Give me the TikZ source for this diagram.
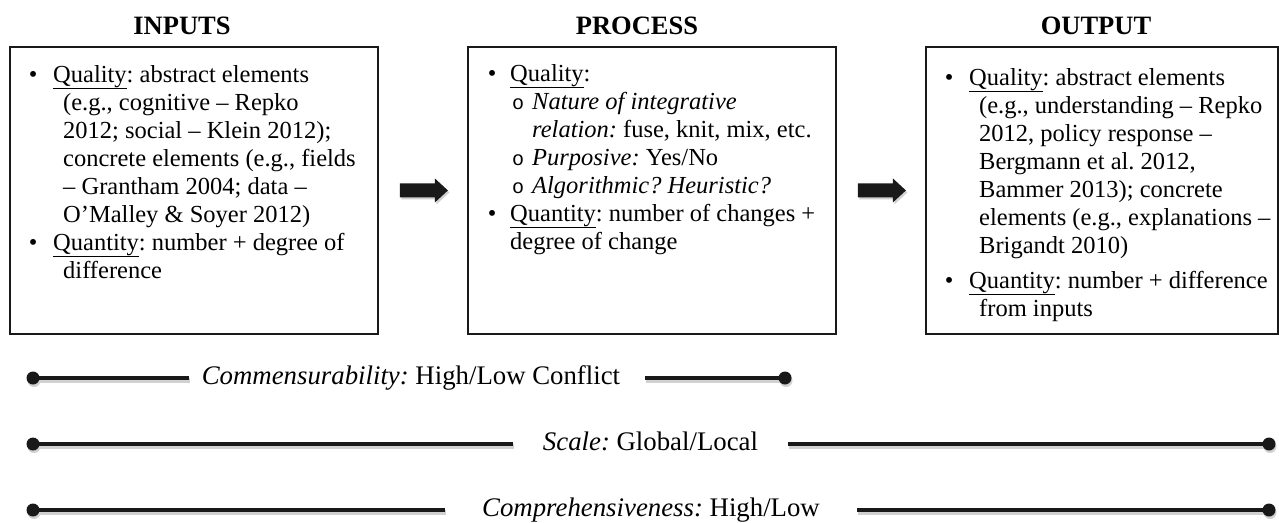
\documentclass[tikz,border=0pt]{standalone}
\usepackage{fontspec}
\setmainfont{Liberation Serif}
\newfontfamily\circfont{Liberation Mono}
\usetikzlibrary{calc}
\frenchspacing

% text sizes (1pt = 1 unit of the drawing)
\newcommand\bodysize{\fontsize{24.5}{28}\selectfont}
\newcommand\hdrsize{\fontsize{26.5}{30}\selectfont\bfseries}
\newcommand\lblsize{\fontsize{26.8}{30}\selectfont}

% one line of box text, indented by #1 pt from the box's left edge
\newcommand\rowline[2]{\hbox{\hskip#1pt\relax#2}}
% centred bullet of zero width
\newcommand\bul{\hbox to 0pt{\hss\textbullet\hss}}
% open sub-bullet
\newcommand\subbul{{\circfont\fontsize{20}{28}\selectfont o}}

\tikzset{
  boxst/.style={draw=black!90, line width=1.9pt, anchor=north west, inner sep=0pt},
  hdr/.style={anchor=base, inner sep=0pt, font=\hdrsize},
  boxtext/.style={anchor=base west, inner sep=0pt, align=left},
  dotst/.style={circle, fill=black!90, inner sep=0pt, minimum size=13pt},
  dotshade/.style={circle, fill=black!18, inner sep=0pt, minimum size=13pt},
  lbl/.style={anchor=base, inner ysep=0pt, font=\lblsize},
  bar/.style={line width=4.2pt, draw=black!90},
  barshade/.style={line width=4.2pt, draw=black!18},
  arrowfill/.style={fill=black!90},
}

\begin{document}
\begin{tikzpicture}[x=1pt, y=-1pt]
\useasboundingbox (0,0) rectangle (1279,522);

% ---- column headings ----
\node[hdr] (hin)  at (182,34)  {INPUTS};
\node[hdr] (hpr)  at (637,34)  {PROCESS};
\node[hdr] (hout) at (1096,34) {OUTPUT};

% ---- the three boxes ----
\node[boxst, minimum width=368pt, minimum height=287pt] (inbox)  at (9,46)   {};
\node[boxst, minimum width=368pt, minimum height=287pt] (prbox)  at (467,46) {};
\node[boxst, minimum width=352pt, minimum height=287pt] (outbox) at (925,46) {};

% ---- box contents ----
\node[boxtext] (intext) at (9,82) {\vtop{\bodysize\baselineskip=28pt
  \rowline{24}{\bul\hskip20pt\underline{Quality}: abstract elements}
  \rowline{54}{(e.g., cognitive -- Repko}
  \rowline{54}{2012; social -- Klein 2012);}
  \rowline{54}{concrete elements (e.g., fields}
  \rowline{54}{-- Grantham 2004; data --}
  \rowline{54}{O’Malley \& Soyer 2012)}
  \rowline{24}{\bul\hskip20pt\underline{Quantity}: number + degree of}
  \rowline{54}{difference}}};

\node[boxtext] (prtext) at (467,81) {\vtop{\bodysize\baselineskip=28pt
  \rowline{25}{\bul\hskip18pt\underline{Quality}:}
  \rowline{45}{\subbul\hskip8pt\textit{Nature of integrative}}
  \rowline{65}{\textit{relation:} fuse, knit, mix, etc.}
  \rowline{45}{\subbul\hskip8pt\textit{Purposive:} Yes/No}
  \rowline{45}{\subbul\hskip8pt\textit{Algorithmic? Heuristic?}}
  \rowline{25}{\bul\hskip18pt\underline{Quantity}: number of changes +}
  \rowline{43}{degree of change}}};

\node[boxtext] (outtext) at (925,85) {\vtop{\bodysize\baselineskip=28pt
  \rowline{24}{\bul\hskip20pt\underline{Quality}: abstract elements}
  \rowline{54}{(e.g., understanding -- Repko}
  \rowline{54}{2012, policy response --}
  \rowline{54}{Bergmann et al. 2012,}
  \rowline{54}{Bammer 2013); concrete}
  \rowline{54}{elements (e.g., explanations --}
  \rowline{54}{Brigandt 2010)}
  \vskip7pt
  \rowline{24}{\bul\hskip20pt\underline{Quantity}: number + difference}
  \rowline{54}{from inputs}}};

% ---- block arrows between the boxes ----
\foreach \b in {inbox, prbox} {
  \fill[black!18] ($(\b.east)+(22.5,-5)$) -- ++(35,0) -- ++(0,-5) -- ++(13,12)
        -- ++(-13,12) -- ++(0,-5) -- ++(-35,0) -- cycle;
  \fill[arrowfill] ($(\b.east)+(21,-7)$) -- ++(35,0) -- ++(0,-5) -- ++(13,12)
        -- ++(-13,12) -- ++(0,-5) -- ++(-35,0) -- cycle;
}

% ---- dimension scales below the boxes (labels sit on the bar's axis) ----
\node[lbl, inner xsep=13pt] (clbl) at (411,384.5) {\textit{Commensurability:} High/Low Conflict};
\node[lbl, inner xsep=30pt] (slbl) at (650.5,450.5) {\textit{Scale:} Global/Local};
\node[lbl, inner xsep=37pt] (plbl) at (651,516.5) {\textit{Comprehensiveness:} High/Low};

% soft shading under the scale bars
\begin{scope}[transform canvas={xshift=1pt, yshift=-2.5pt}]
  \foreach \y in {378,444,510} {
    \node[dotshade] at (33,\y) {};
  }
  \node[dotshade] at (785,378) {};
  \node[dotshade] at (1269,444) {};
  \node[dotshade] at (1269,510) {};
  \draw[barshade] (33,378) -- (clbl.west |- 0,378);
  \draw[barshade] ([xshift=12pt]clbl.east |- 0,378) -- (785,378);
  \draw[barshade] (33,444) -- (slbl.west |- 0,444);
  \draw[barshade] (slbl.east |- 0,444) -- (1269,444);
  \draw[barshade] (33,510) -- (plbl.west |- 0,510);
  \draw[barshade] (plbl.east |- 0,510) -- (1269,510);
\end{scope}

\node[dotst] (cl) at (33,378)  {};
\node[dotst] (cr) at (785,378) {};
\node[dotst] (sl) at (33,444)   {};
\node[dotst] (sr) at (1269,444) {};
\node[dotst] (pl) at (33,510)   {};
\node[dotst] (pr) at (1269,510) {};

\draw[bar] (cl.center) -- (clbl.west |- cl.center);
\draw[bar] ([xshift=12pt]clbl.east |- cr.center) -- (cr.center);
\draw[bar] (sl.center) -- (slbl.west |- sl.center);
\draw[bar] (slbl.east |- sr.center) -- (sr.center);
\draw[bar] (pl.center) -- (plbl.west |- pl.center);
\draw[bar] (plbl.east |- pr.center) -- (pr.center);

\end{tikzpicture}
\end{document}
